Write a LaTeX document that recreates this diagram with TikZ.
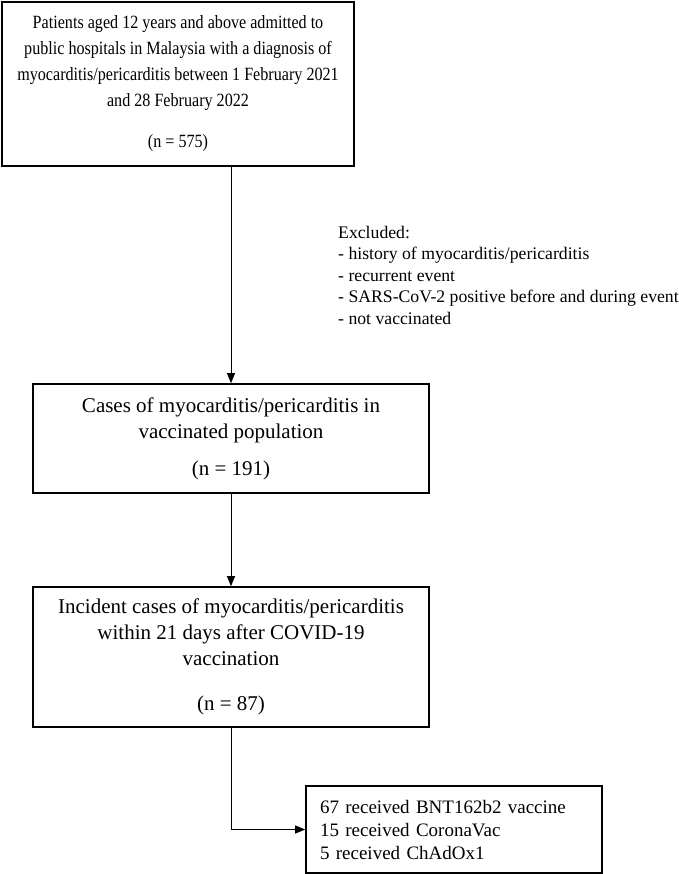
\documentclass[tikz,border=0pt]{standalone}
\usepackage{fontspec}
\setmainfont{Liberation Serif}
\newfontfamily\narrowfont[FakeStretch=0.862]{Liberation Serif}
\usetikzlibrary{arrows.meta}

\begin{document}
\begin{tikzpicture}[x=1pt, y=-1pt,
	main/.style = {draw, line width=1.6pt, align=center, inner sep=0pt, font=\fontsize{21}{26}\selectfont},
	list/.style = {draw, line width=1.6pt, align=left, inner xsep=14pt, font=\fontsize{19}{23}\selectfont},
	arr/.style = {line width=1pt, -{Triangle[length=10pt, width=8pt]}}]
	\useasboundingbox (0,0) rectangle (678,874);
	\node[main, font=\narrowfont\fontsize{18.7}{26}\selectfont, minimum width=352pt, minimum height=164pt] (1) at (178,84) {Patients aged 12 years and above admitted to\\public hospitals in Malaysia with a diagnosis of\\myocarditis/pericarditis between 1 February 2021\\and 28 February 2022\\[15pt](n = 575)};
	\node[main, minimum width=396pt, minimum height=109pt] (2) at (231,438.5) {Cases of myocarditis/pericarditis in\\vaccinated population\\[11pt](n = 191)};
	\node[main, minimum width=396pt, minimum height=140pt] (3) at (231,657) {Incident cases of myocarditis/pericarditis\\within 21 days after COVID-19\\vaccination\\[19pt](n = 87)};
	\node[list, text width=268pt, minimum height=87pt] (4) at (454,829.5) {67 received BNT162b2 vaccine\\15 received CoronaVac\\5 received ChAdOx1};
	\node[anchor=north west, align=left, inner sep=0pt, font=\fontsize{17.7}{21.5}\selectfont] (ex) at (338,226) {Excluded:\\- history of myocarditis/pericarditis\\- recurrent event\\- SARS-CoV-2 positive before and during event\\- not vaccinated};
	\draw[arr] (1.south -| 2.north) -- (2.north);
	\draw[arr] (2.south) -- (3.north);
	\draw[arr] (3.south) |- (4.west);
\end{tikzpicture}
\end{document}
